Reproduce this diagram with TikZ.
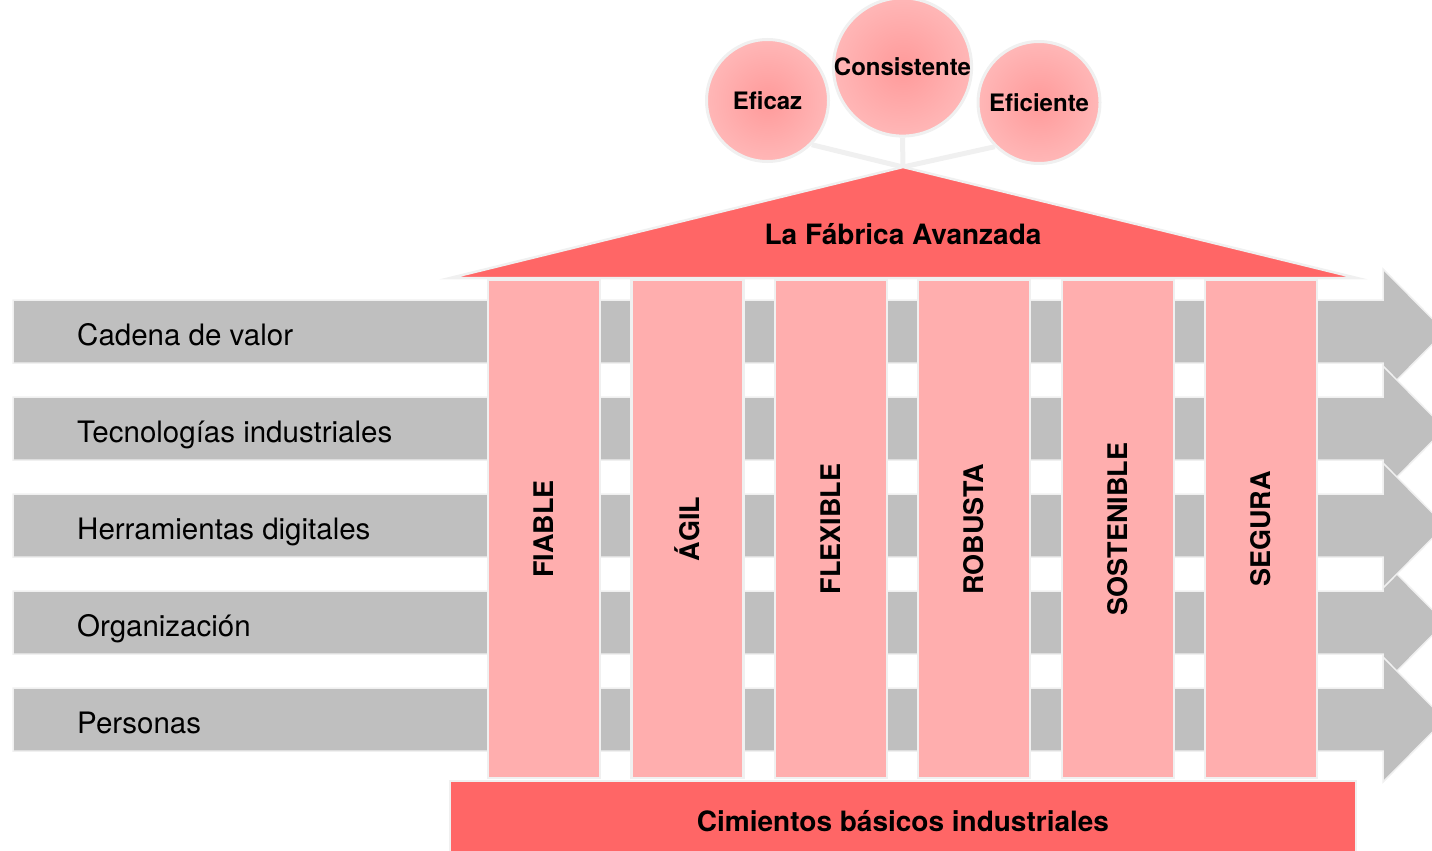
\documentclass[tikz,border=0pt]{standalone}
\usepackage{fontspec}
\setmainfont{TeX Gyre Heros}
\usetikzlibrary{calc}
\definecolor{bandgrey}{HTML}{BFBFBF}
\definecolor{pillarpink}{HTML}{FFAEAE}
\definecolor{roofred}{HTML}{FF6666}
\definecolor{rim}{HTML}{F0F0F0}
\definecolor{bubin}{HTML}{FF9A9A}
\definecolor{bubout}{HTML}{FFD4D4}
\pgfdeclareradialshading{bubbleshade}{\pgfpoint{0bp}{0bp}}{color(0bp)=(bubin); color(50bp)=(bubout); color(100bp)=(bubout)}

\begin{document}
\begin{tikzpicture}[x=1pt,y=-1pt,
    lane/.style={fill=bandgrey,draw=rim,line width=1.5pt},
    lanelabel/.style={anchor=base west,inner sep=0pt,font=\fontsize{29.5}{30}\selectfont},
    pillar/.style={fill=pillarpink,draw=rim,line width=2.5pt,rotate=90,minimum width=498pt,minimum height=112pt,inner sep=0pt,font=\fontsize{27}{28}\selectfont\bfseries},
    roofpart/.style={fill=roofred,draw=rim,line width=2.5pt},
    bubble/.style={circle,draw=rim,line width=3pt,shading=bubbleshade,minimum size=122pt,inner sep=0pt,font=\fontsize{24}{25}\selectfont\bfseries},
    stem/.style={draw=rim,line width=5pt},
    bigtitle/.style={font=\fontsize{28}{29}\selectfont\bfseries}]
    \useasboundingbox (0,0) rectangle (1432,851);

    \foreach \t in {300,397,591,494,688} {
        \filldraw[lane] (13,\t) -- (1383,\t) -- (1383,\t-31) -- (1445,\t+31.5) -- (1383,\t+94) -- (1383,\t+63) -- (13,\t+63) -- cycle;
    }
    \foreach \lab [count=\i] in {Cadena de valor, Tecnologías industriales, Herramientas digitales, Organización, Personas} {
        \node[lanelabel] (lane\i) at (77,{300+97*(\i-1)+45}) {\lab};
    }

    \foreach \x/\word [count=\i] in {544/FIABLE, 687.5/ÁGIL, 831/FLEXIBLE, 974/ROBUSTA, 1118/SOSTENIBLE, 1261/SEGURA} {
        \node[pillar] (col\i) at (\x,529) {\word};
    }

    \node[bubble] (eficaz) at (767.5,100.5) {Eficaz};
    \node[bubble] (consistente) at (902.5,67) {Consistente};
    \node[bubble] (eficiente) at (1039,102.5) {Eficiente};

    \coordinate (apex) at (903,167);
    \draw[stem] (apex) -- (eficaz.-45);
    \draw[stem] (apex) -- (consistente.south);
    \draw[stem] (apex) -- (eficiente.-135);

    \filldraw[roofpart] (450,278) -- (apex) -- (1357,278) -- cycle;
    \node[bigtitle] (roof) at (903,234) {La Fábrica Avanzada};

    \node[roofpart,minimum width=906pt,minimum height=80pt,inner sep=0pt,bigtitle] (base) at (903,821) {Cimientos básicos industriales};
\end{tikzpicture}
\end{document}
